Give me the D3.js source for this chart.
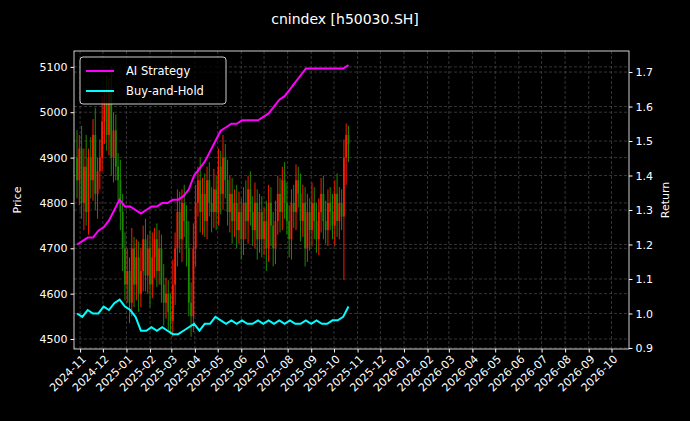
<!DOCTYPE html><html><head><meta charset="utf-8"><script src="https://cdn.jsdelivr.net/npm/d3@7"></script>
<style>body{margin:0;background:#000}svg{font-family:"DejaVu Sans",sans-serif}</style></head><body><svg width="690" height="421"></svg>
<script>
const title="cnindex [h50030.SH]";
const candleStart="2024-10-28", candleEnd="2025-10-20";
const closes=[4850,4920,4800,4880,4780,4900,4850,4950,4820,4870,
4900,4980,5020,4950,5050,4900,4960,4880,4850,4780,
4700,4620,4650,4580,4700,4620,4680,4600,4650,4720,
4640,4700,4620,4680,4720,4650,4700,4620,4580,4600,
4560,4540,4620,4700,4780,4720,4800,4760,4700,4580,
4550,4700,4800,4850,4780,4820,4760,4850,4800,4780,
4830,4780,4880,4820,4900,4850,4780,4820,4760,4800,
4740,4780,4720,4800,4760,4830,4780,4740,4800,4720,
4780,4720,4760,4700,4800,4750,4700,4760,4820,4780,
4850,4800,4760,4720,4800,4780,4850,4820,4760,4800,
4700,4780,4740,4800,4760,4720,4780,4820,4760,4740,
4800,4780,4750,4820,4760,4800,4770,4900,4950,4930];
const opens=[4900].concat(closes.slice(0,-1));
const wickUp=[60,30,50,40,70,20,45,35,60,30,40,55,30,60,25,50,40,35,30,45,
40,35,50,30,45,25,40,35,50,30,45,30,40,55,25,35,40,30,45,35,
30,40,55,35,50,45,30,40,35,60,45,55,40,30,50,35,45,30,40,35,
45,30,40,35,50,30,45,40,35,30,40,45,30,35,50,30,40,35,45,30,
40,35,30,45,40,35,30,45,40,35,30,40,45,35,30,40,35,30,45,40,
35,40,30,45,35,40,30,35,40,45,30,35,40,30,45,35,30,40,25,20];
const wickDn=[40,55,35,60,30,50,40,45,35,55,40,30,50,35,45,40,55,30,45,40,
50,35,40,45,30,50,35,40,30,45,35,40,50,30,45,35,30,40,50,35,
40,30,35,45,40,30,50,35,40,30,45,35,40,30,45,50,35,40,30,45,
35,40,30,45,35,40,30,45,50,35,40,30,45,35,40,50,30,35,40,45,
30,40,35,50,30,45,40,35,30,45,40,35,30,40,45,35,40,30,45,35,
40,30,45,35,40,30,35,45,40,30,35,40,30,45,35,40,30,140,60,40];
const lineStart="2024-10-28";
const aiStrategy=[1.20,1.21,1.22,1.22,1.24,1.25,1.27,1.30,1.33,1.31,1.31,1.30,1.29,1.30,1.31,1.31,1.32,1.32,1.33,1.33,1.34,1.36,1.40,1.42,1.44,1.47,1.50,1.53,1.54,1.55,1.55,1.56,1.56,1.56,1.56,1.57,1.58,1.60,1.62,1.63,1.65,1.67,1.69,1.71,1.71,1.71,1.71,1.71,1.71,1.71,1.71,1.72];
const buyHold=[1.00,0.99,1.01,1.00,1.00,1.02,1.01,1.03,1.04,1.02,1.01,0.99,0.95,0.95,0.96,0.95,0.96,0.95,0.94,0.94,0.95,0.96,0.97,0.95,0.97,0.97,0.99,0.98,0.97,0.98,0.97,0.98,0.97,0.97,0.98,0.97,0.98,0.97,0.98,0.97,0.98,0.97,0.97,0.98,0.97,0.98,0.97,0.97,0.98,0.98,0.99,1.02];
const priceTicks=[4500,4600,4700,4800,4900,5000,5100];
const returnTicks=[0.9,1.0,1.1,1.2,1.3,1.4,1.5,1.6,1.7];

const svg=d3.select("svg");
const L=74,R=629,T=51,B=349;
const p=d3.timeParse("%Y-%m-%d");
const x=d3.scaleTime().domain([p("2024-10-24"),p("2026-10-24")]).range([L,R]);
const yP=d3.scaleLinear().domain([4478,5135]).range([B,T]);
const yR=d3.scaleLinear().domain([0.897,1.761]).range([B,T]);
const months=d3.timeMonth.range(p("2024-11-01"),p("2026-10-02"));
const grid=svg.append("g").attr("stroke","#555").attr("stroke-width",0.6).attr("stroke-dasharray","3,2");
months.forEach(m=>grid.append("line").attr("x1",x(m)).attr("x2",x(m)).attr("y1",T).attr("y2",B));
priceTicks.forEach(v=>grid.append("line").attr("x1",L).attr("x2",R).attr("y1",yP(v)).attr("y2",yP(v)));
returnTicks.forEach(v=>grid.append("line").attr("x1",L).attr("x2",R).attr("y1",yR(v)).attr("y2",yR(v)));
const t0=p(candleStart),t1=p(candleEnd);
const ct=closes.map((c,i)=>new Date(+t0+(t1-t0)*i/(closes.length-1)));
const cg=svg.append("g");
closes.forEach((c,i)=>{const o=opens[i];const up=c>=o;const col=up?"#ff1a00":"#1a8a00";const cx=x(ct[i]);
 cg.append("line").attr("x1",cx).attr("x2",cx).attr("y1",yP(Math.max(o,c)+wickUp[i])).attr("y2",yP(Math.min(o,c)-wickDn[i])).attr("stroke",col).attr("stroke-width",1);
 cg.append("rect").attr("x",cx-0.9).attr("width",1.8)
 .attr("y",yP(Math.max(o,c))).attr("height",Math.max(1,Math.abs(yP(o)-yP(c))))
 .attr("fill",col);});
const ls=p(lineStart);
const lt=i=>d3.timeDay.offset(ls,7*i);
const line=d3.line().x((d,i)=>x(lt(i))).y(d=>yR(d));
svg.append("path").datum(aiStrategy).attr("d",line).attr("fill","none").attr("stroke","#ff00ff").attr("stroke-width",2);
svg.append("path").datum(buyHold).attr("d",line).attr("fill","none").attr("stroke","#00ffff").attr("stroke-width",2);
svg.append("rect").attr("x",L).attr("y",T).attr("width",R-L).attr("height",B-T).attr("fill","none").attr("stroke","#fff").attr("stroke-width",0.8);
const ax=(a)=>a.call(s=>{s.selectAll("path").remove();s.selectAll("line").attr("stroke","#fff");s.selectAll("text").attr("fill","#fff").attr("font-size",11).attr("font-family","DejaVu Sans");});
svg.append("g").attr("transform",`translate(${L},0)`).call(d3.axisLeft(yP).tickValues(priceTicks).tickFormat(d3.format("d")).tickSize(3.5)).call(ax);
svg.append("g").attr("transform",`translate(${R},0)`).call(d3.axisRight(yR).tickValues(returnTicks).tickFormat(d3.format(".1f")).tickSize(3.5)).call(ax);
const xa=svg.append("g").attr("transform",`translate(0,${B})`).call(d3.axisBottom(x).tickValues(months).tickFormat(d3.timeFormat("%Y-%m")).tickSize(3.5)).call(ax);
xa.selectAll("text").attr("text-anchor","end").attr("dx","-0.3em").attr("dy","0.5em").attr("transform","rotate(-45)");
svg.append("text").attr("x",345).attr("y",24).attr("text-anchor","middle").attr("fill","#fff").attr("font-size",14).text(title);
svg.append("text").attr("transform",`translate(21,${(T+B)/2}) rotate(-90)`).attr("text-anchor","middle").attr("fill","#fff").attr("font-size",11).text("Price");
svg.append("text").attr("transform",`translate(669,${(T+B)/2}) rotate(-90)`).attr("text-anchor","middle").attr("fill","#fff").attr("font-size",11).text("Return");
const lg=svg.append("g");
lg.append("rect").attr("x",80).attr("y",57).attr("width",146).attr("height",47).attr("rx",3).attr("fill","#000").attr("fill-opacity",0.8).attr("stroke","#ccc");
[["AI Strategy","#ff00ff"],["Buy-and-Hold","#00ffff"]].forEach((d,i)=>{const yy=71+i*20;
 lg.append("line").attr("x1",86).attr("x2",114).attr("y1",yy).attr("y2",yy).attr("stroke",d[1]).attr("stroke-width",2);
 lg.append("text").attr("x",126).attr("y",yy+4).attr("fill","#fff").attr("font-size",11.5).text(d[0]);});
</script></body></html>
